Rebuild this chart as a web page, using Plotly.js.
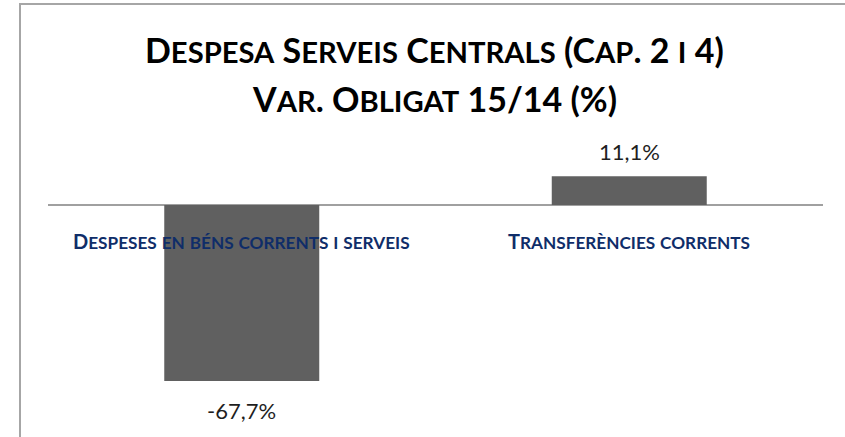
<!DOCTYPE html>
<html>
<head>
<meta charset="utf-8">
<script src="https://cdn.plot.ly/plotly-3.0.1.min.js"></script>
<style>
  html, body { margin: 0; padding: 0; background: #fff; overflow: hidden; }
  #chart { width: 845px; height: 437px; }
</style>
</head>
<body>
<div id="chart"></div>
<script>
// Variació de l'obligat 2015/2014 per capítol (percentatge)
const categories = ["Despeses en béns corrents i serveis", "Transferències corrents"];
const variation = [-67.7, 11.1];

const titleLines = ["Despesa Serveis Centrals (Cap. 2 i 4)", "Var. Obligat 15/14 (%)"];

const W = 845, H = 437;
const M = { l: 48, r: 22, t: 130, b: 0 };
const plotH = H - M.t - M.b;
const plotW = W - M.l - M.r;

// Pixel row (from top) to paper coordinate
function py(p) { return (H - M.b - p) / plotH; }
// Pixel column (from left) to paper coordinate
function px(p) { return (p - M.l) / plotW; }

// Percent with a comma as decimal separator
function pct(v) {
  return v.toFixed(1).replace(".", ",") + "%";
}

// Small capitals: lowercase letters become reduced-size capitals
function smallCaps(str, size, ratio) {
  const small = Math.round(size * ratio * 10) / 10;
  let out = "";
  let run = "";
  const flush = () => {
    if (run) { out += '<span style="font-size:' + small + 'px">' + run + "</span>"; run = ""; }
  };
  for (const ch of str) {
    if (ch !== ch.toUpperCase()) {
      run += ch.toUpperCase();
    } else {
      flush();
      out += ch;
    }
  }
  flush();
  return out;
}

const FONT = "Lato, 'Open Sans', sans-serif";

const barTrace = {
  type: "bar",
  x: categories,
  y: variation,
  marker: { color: "#606060" },
  hoverinfo: "skip"
};

// Value labels just beyond each bar end
const valueLabels = categories.map((c, i) => ({
  x: c,
  y: variation[i],
  xref: "x",
  yref: "y",
  text: pct(variation[i]),
  showarrow: false,
  yshift: variation[i] < 0 ? -29 : 25,
  font: { family: FONT, size: 22, color: "#1e1e1e" }
}));

// Category names sit just under the zero line
const LABEL_SIZE = 20;
const categoryLabels = categories.map(c => ({
  x: c,
  y: 0,
  xref: "x",
  yref: "y",
  text: smallCaps(c, LABEL_SIZE, 0.86),
  showarrow: false,
  yshift: -36,
  font: { family: FONT, size: LABEL_SIZE, color: "#0f2d69", weight: "bold" }
}));

// Two-line heading
const TITLE_SIZE = 34;
const titleRows = [49, 99];
const titleLabels = titleLines.map((t, i) => ({
  x: px(434),
  xref: "paper",
  xanchor: "center",
  y: py(titleRows[i]),
  yref: "paper",
  yanchor: "middle",
  text: smallCaps(t, TITLE_SIZE, 0.86),
  showarrow: false,
  font: { family: FONT, size: TITLE_SIZE, color: "#000000", weight: "bold" }
}));

const layout = {
  width: W,
  height: H,
  margin: M,
  paper_bgcolor: "#ffffff",
  plot_bgcolor: "#ffffff",
  showlegend: false,
  bargap: 0.6,
  xaxis: {
    showticklabels: false,
    showgrid: false,
    zeroline: false,
    showline: false,
    ticks: ""
  },
  yaxis: {
    range: [-89.23, 28.85],
    showticklabels: false,
    showgrid: false,
    showline: false,
    ticks: "",
    zeroline: true,
    zerolinecolor: "#a0a0a0",
    zerolinewidth: 1.5
  },
  annotations: titleLabels.concat(valueLabels, categoryLabels),
  shapes: [{
    type: "rect",
    xref: "paper",
    yref: "paper",
    x0: px(20),
    x1: 1.2,
    y0: -0.2,
    y1: py(4),
    line: { color: "#a6a6a6", width: 2 },
    fillcolor: "rgba(0,0,0,0)"
  }]
};

Plotly.newPlot("chart", [barTrace], layout, { displayModeBar: false, staticPlot: true });
</script>
</body>
</html>
